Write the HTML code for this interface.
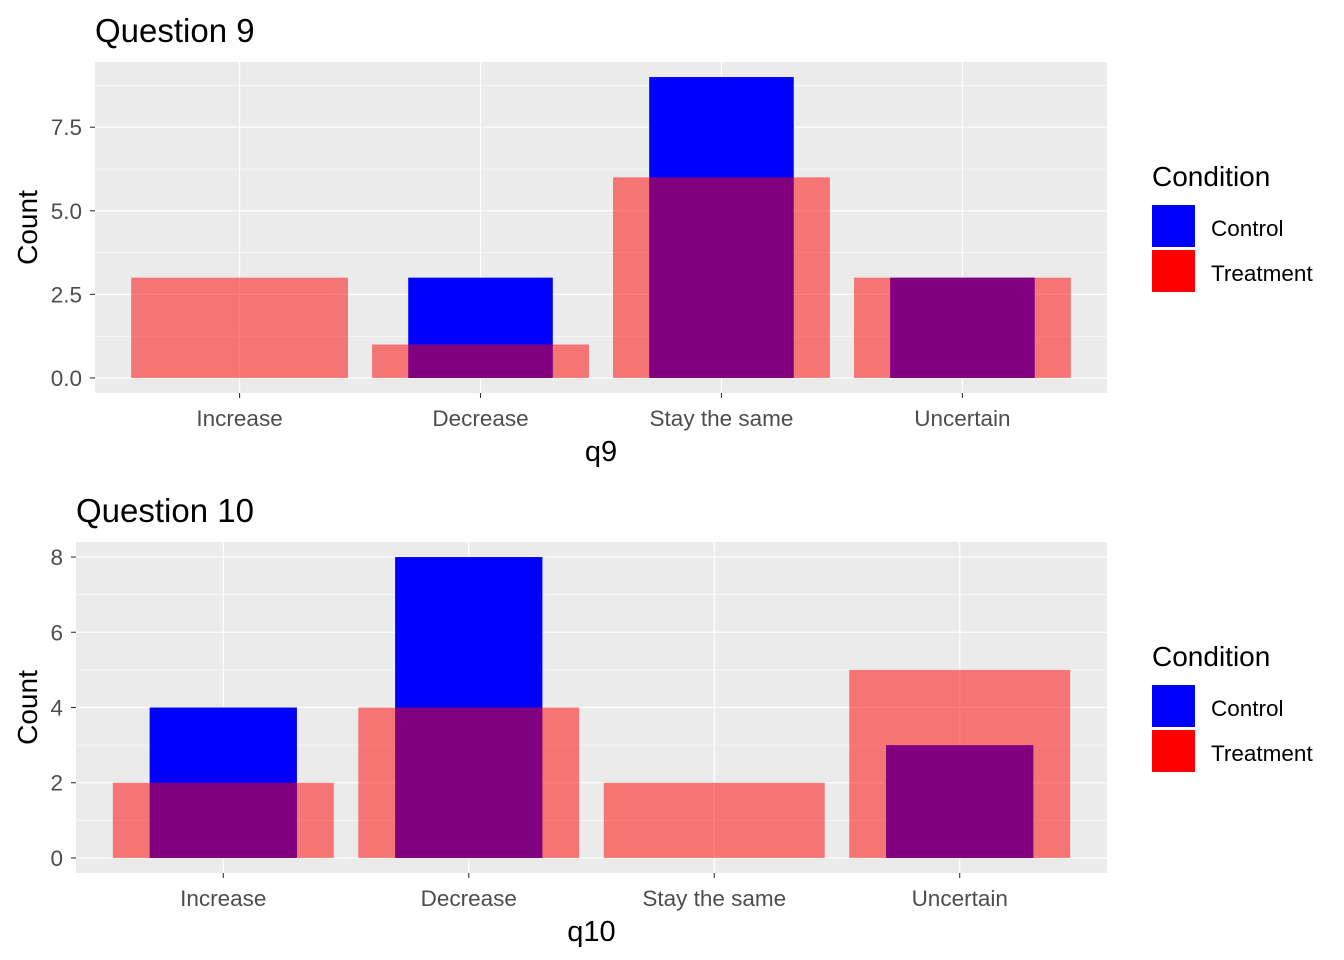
<!DOCTYPE html>
<html><head><meta charset="utf-8"><style>
body{margin:0;background:#fff;}
svg{display:block;font-family:"Liberation Sans",Arial,sans-serif;}
</style></head><body>
<svg id="c" width="1344" height="960"></svg>
<script>
const categories = ["Increase","Decrease","Stay the same","Uncertain"];
const q9Control = [0,3,9,3];
const q9Treatment = [3,1,6,3];
const q9Ticks = [0,2.5,5,7.5];
const q9TickLabels = ["0.0","2.5","5.0","7.5"];
const q10Control = [4,8,0,3];
const q10Treatment = [2,4,2,5];
const q10Ticks = [0,2,4,6,8];
const q10TickLabels = ["0","2","4","6","8"];

const NS="http://www.w3.org/2000/svg";
const svg=document.getElementById('c');
function mk(tag,attrs,parent,text){const e=document.createElementNS(NS,tag);for(const k in attrs)e.setAttribute(k,attrs[k]);if(text!==undefined)e.textContent=text;(parent||svg).appendChild(e);return e;}

function panel(o){
  const g=mk('g',{});
  
  
  const maxV=Math.max(...o.control,...o.treatment);
  const lo=-maxV*0.05, hi=maxV*1.05;
  const y=v=>o.y1-(v-lo)/(hi-lo)*(o.y1-o.y0);
  const n=categories.length, step=(o.x1-o.x0)/(n+0.2);
  const x=i=>o.x0+step*(0.6+i);
  const bg=mk('rect',{x:o.x0,y:o.y0,width:o.x1-o.x0,height:o.y1-o.y0,fill:'#EBEBEB'},g);
  
  
  for(let k=0;k<o.ticks.length;k++){
    const mv=o.ticks[k]+(o.ticks[1]-o.ticks[0])/2;
    if(mv<hi) mk('line',{x1:o.x0,x2:o.x1,y1:y(mv),y2:y(mv),stroke:'#fff','stroke-width':0.6},g);
  }
  o.ticks.forEach((t,k)=>{
    mk('line',{x1:o.x0,x2:o.x1,y1:y(t),y2:y(t),stroke:'#fff','stroke-width':1.2},g);
    mk('line',{x1:o.x0-5,x2:o.x0,y1:y(t),y2:y(t),stroke:'#333','stroke-width':1.1},g);
    const tl=mk('text',{x:o.x0-13,y:y(t)+8,'text-anchor':'end','font-size':'22.5px',fill:'#4D4D4D'},g,o.tickLabels[k]);
    
    
  });
  categories.forEach((c,i)=>{
    mk('line',{x1:x(i),x2:x(i),y1:o.y0,y2:o.y1,stroke:'#fff','stroke-width':1.2},g);
    mk('line',{x1:x(i),x2:x(i),y1:o.y1,y2:o.y1+5,stroke:'#333','stroke-width':1.1},g);
    const tl=mk('text',{x:x(i),y:o.y1+33,'text-anchor':'middle','font-size':'22.5px',fill:'#4D4D4D'},g,c);
    
    
  });
  categories.forEach((c,i)=>{
    const v=o.control[i];
    const w=step*0.6;
    const r=mk('rect',{x:x(i)-w/2,y:y(v),width:w,height:y(0)-y(v),fill:'#0000FF'},g);
    
    
  });
  categories.forEach((c,i)=>{
    const v=o.treatment[i];
    const w=step*0.9;
    const r=mk('rect',{x:x(i)-w/2,y:y(v),width:w,height:y(0)-y(v),fill:'#FF0000','fill-opacity':0.5},g);
    
    
  });
  const t=mk('text',{x:o.x0,y:o.y0-20,'font-size':'33px',fill:'#000'},g,o.title);
  
  
  const yl=mk('text',{x:0,y:0,transform:`translate(37,${(o.y0+o.y1)/2}) rotate(-90)`,'text-anchor':'middle','font-size':'28px',fill:'#000'},g,'Count');
  
  
  const xl=mk('text',{x:(o.x0+o.x1)/2,y:o.y1+68,'text-anchor':'middle','font-size':'29px',fill:'#000'},g,o.xlab);
  
  
  const lg=mk('g',{},g);
  
  
  mk('text',{x:1152,y:o.ly+10,'font-size':'28px',fill:'#000'},lg,'Condition');
  [['Control','#0000FF'],['Treatment','#FF0000']].forEach((d,k)=>{
    const yy=o.ly+29+k*45;
    const e=mk('g',{},lg);
    
    
    mk('rect',{x:1152,y:yy,width:43,height:42,fill:d[1]},e);
    mk('text',{x:1211,y:yy+31,'font-size':'22.5px',fill:'#000'},e,d[0]);
  });
}
panel({id:'q9',title:'Question 9',xlab:'q9',x0:95,x1:1107,y0:62,y1:393,control:q9Control,treatment:q9Treatment,ticks:q9Ticks,tickLabels:q9TickLabels,ly:176});
panel({id:'q10',title:'Question 10',xlab:'q10',x0:76,x1:1107,y0:542,y1:873,control:q10Control,treatment:q10Treatment,ticks:q10Ticks,tickLabels:q10TickLabels,ly:656});
</script>
</body></html>
